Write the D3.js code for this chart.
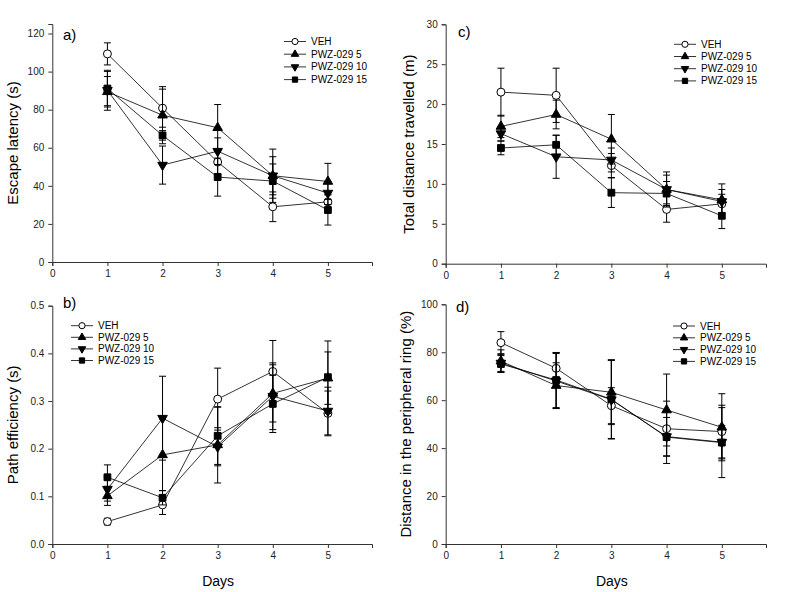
<!DOCTYPE html>
<html>
<head>
<meta charset="utf-8">
<script src="https://cdn.jsdelivr.net/npm/d3@7"></script>
<style>
  body { margin: 0; background: #fff; }
  svg { font-family: Arial, "Liberation Sans", sans-serif; }
</style>
</head>
<body>
<svg id="chart" width="800" height="592"></svg>
<script>
// days and groups
var days = [1, 2, 3, 4, 5];
var groups = ["VEH", "PWZ-029 5", "PWZ-029 10", "PWZ-029 15"];
var symbols = ["circle", "triangleUp", "triangleDown", "square"];
var xTicks = [0, 1, 2, 3, 4, 5];

// a) escape latency
var latencyVEH = [109.3, 80.8, 52.5, 29.0, 31.6];
var latency5 = [89.4, 77.1, 70.5, 45.3, 42.3];
var latency10 = [90.2, 50.9, 58.2, 45.3, 36.2];
var latency15 = [91.1, 66.5, 44.6, 42.5, 27.3];
var latencyErrVEH = [5.8, 10, 6, 7.8, 4];
var latencyErr5 = [8, 15, 12.2, 14, 9.5];
var latencyErr10 = [10.5, 10, 7, 10, 6];
var latencyErr15 = [9, 2.5, 10, 9, 7.9];
var latencyTicks = [0, 20, 40, 60, 80, 100, 120];

// b) path efficiency
var pathVEH = [0.047, 0.082, 0.304, 0.362, 0.274];
var path5 = [0.101, 0.187, 0.208, 0.316, 0.348];
var path10 = [0.115, 0.264, 0.204, 0.310, 0.279];
var path15 = [0.140, 0.097, 0.227, 0.294, 0.350];
var pathErrVEH = [0.007, 0.02, 0.065, 0.065, 0.047];
var pathErr5 = [0.02, 0.075, 0.08, 0.06, 0.055];
var pathErr10 = [0.025, 0.088, 0.04, 0.07, 0.05];
var pathErr15 = [0.026, 0.015, 0.06, 0.06, 0.076];
var pathTicks = [0, 0.1, 0.2, 0.3, 0.4, 0.5];

// c) total distance
var distVEH = [21.5, 21.1, 12.3, 6.8, 7.5];
var dist5 = [17.2, 18.7, 15.6, 9.3, 8.0];
var dist10 = [16.3, 13.4, 13.0, 9.3, 7.8];
var dist15 = [14.5, 14.9, 8.9, 8.8, 6.0];
var distErrVEH = [3, 3.4, 1.5, 1.6, 1.2];
var distErr5 = [1.4, 1.8, 3.1, 2.2, 2.0];
var distErr10 = [0.9, 2.7, 1.5, 1.8, 1.5];
var distErr15 = [0.85, 1.2, 1.85, 1.5, 1.6];
var distTicks = [0, 5, 10, 15, 20, 25, 30];

// d) peripheral ring
var ringVEH = [84.0, 73.3, 57.7, 48.1, 46.9];
var ring5 = [76.3, 66.1, 63.3, 55.9, 48.7];
var ring10 = [75.5, 68.0, 60.2, 44.8, 42.5];
var ring15 = [75.1, 68.4, 60.4, 44.6, 42.3];
var ringErrVEH = [4.6, 6.5, 7.5, 11.5, 11];
var ringErr5 = [4.7, 9.5, 13.5, 15, 14];
var ringErr10 = [3.5, 11.5, 16.4, 8, 7];
var ringErr15 = [3.5, 11.5, 16.4, 11, 14.6];
var ringTicks = [0, 20, 40, 60, 80, 100];

var svg = d3.select("#chart");

var symbolTypes = {
    circle: d3.symbolCircle,
    triangleUp: d3.symbolTriangle,
    triangleDown: d3.symbolTriangle,
    square: d3.symbolSquare
};
var symbolSizes = { circle: 50, triangleUp: 40, triangleDown: 40, square: 46 };

function drawMarker(g, kind, x, y, scale){
    var s = scale || 1;
    g.append("path")
        .attr("d", d3.symbol().type(symbolTypes[kind]).size(symbolSizes[kind] * s)())
        .attr("transform", "translate(" + x + "," + y + ")" + (kind == "triangleDown" ? " rotate(180)" : ""))
        .attr("fill", kind == "circle" ? "#fff" : "#000")
        .attr("stroke", "#000")
        .attr("stroke-width", 1);
}

function drawPanel(p){
    var g = svg.append("g");

    var x = d3.scaleLinear().domain([0, 5.8]).range([p.left, p.right]);
    var y = d3.scaleLinear().domain([0, p.yMax]).range([p.bottom, p.top]);

    var xAxis = g.append("g")
        .attr("transform", "translate(0," + p.bottom + ")")
        .call(d3.axisBottom(x).tickValues(xTicks).tickSizeOuter(0).tickSize(4).tickPadding(4).tickFormat(d3.format("d")));
    var yAxis = g.append("g")
        .attr("transform", "translate(" + p.left + ",0)")
        .call(d3.axisLeft(y).tickValues(p.ticks).tickSizeOuter(0).tickSize(4).tickPadding(4).tickFormat(p.fmt));

    [xAxis, yAxis].forEach(function(a){
        a.select(".domain").attr("stroke", "#333");
        a.selectAll(".tick line").attr("stroke", "#333");
        a.selectAll("text").attr("font-size", 10).attr("fill", "#222").attr("font-family", "Arial, 'Liberation Sans', sans-serif");
    });

    // series
    p.series.forEach(function(vals, i){
        var errs = p.errors[i];
        var sg = g.append("g");
        days.forEach(function(d, j){
            var cx = x(d);
            sg.append("line").attr("x1", cx).attr("x2", cx)
                .attr("y1", y(vals[j] - errs[j])).attr("y2", y(vals[j] + errs[j]))
                .attr("stroke", "#000").attr("stroke-width", 1);
            [vals[j] - errs[j], vals[j] + errs[j]].forEach(function(v){
                sg.append("line").attr("x1", cx - 3.5).attr("x2", cx + 3.5)
                    .attr("y1", y(v)).attr("y2", y(v))
                    .attr("stroke", "#000").attr("stroke-width", 1);
            });
        });
        sg.append("path")
            .datum(vals)
            .attr("fill", "none")
            .attr("stroke", "#000")
            .attr("stroke-width", 0.8)
            .attr("d", d3.line().x(function(d, j){ return x(days[j]); }).y(function(d){ return y(d); }));
        vals.forEach(function(v, j){
            drawMarker(sg, symbols[i], x(days[j]), y(v));
        });
    });

    // legend
    groups.forEach(function(name, i){
        var ly = p.legendY + i * p.legendStep;
        g.append("line").attr("x1", p.legendX).attr("x2", p.legendX + 22)
            .attr("y1", ly).attr("y2", ly).attr("stroke", "#000").attr("stroke-width", 0.8);
        drawMarker(g, symbols[i], p.legendX + 11, ly, 0.6);
        g.append("text").attr("x", p.legendX + 27).attr("y", ly + 3.5)
            .attr("font-size", 10).text(name);
    });

    // panel letter
    g.append("text").attr("x", p.letterX).attr("y", p.letterY)
        .attr("font-size", 15).text(p.letter);

    // y title
    g.append("text")
        .attr("transform", "translate(" + p.titleX + "," + ((p.top + p.bottom) / 2) + ") rotate(-90)")
        .attr("text-anchor", "middle")
        .attr("font-size", 15)
        .text(p.title);

    if (p.days) {
        g.append("text").attr("x", (p.left + p.right) / 2 + 6).attr("y", 586)
            .attr("text-anchor", "middle").attr("font-size", 14).text("Days");
    }
}

drawPanel({
    left: 52.3, right: 372, top: 24, bottom: 262, yMax: 125,
    ticks: latencyTicks, fmt: d3.format("d"),
    series: [latencyVEH, latency5, latency10, latency15],
    errors: [latencyErrVEH, latencyErr5, latencyErr10, latencyErr15],
    legendX: 284, legendY: 41.5, legendStep: 12.7,
    letter: "a)", letterX: 63, letterY: 40,
    title: "Escape latency (s)", titleX: 18, days: false
});

drawPanel({
    left: 52.3, right: 372, top: 305.7, bottom: 544, yMax: 0.5,
    ticks: pathTicks, fmt: d3.format(".1f"),
    series: [pathVEH, path5, path10, path15],
    errors: [pathErrVEH, pathErr5, pathErr10, pathErr15],
    legendX: 71, legendY: 325.7, legendStep: 11.6,
    letter: "b)", letterX: 63, letterY: 308,
    title: "Path efficiency (s)", titleX: 18, days: true
});

drawPanel({
    left: 445.7, right: 766, top: 24.3, bottom: 263.7, yMax: 30,
    ticks: distTicks, fmt: d3.format("d"),
    series: [distVEH, dist5, dist10, dist15],
    errors: [distErrVEH, distErr5, distErr10, distErr15],
    legendX: 674, legendY: 44.3, legendStep: 12.2,
    letter: "c)", letterX: 458, letterY: 37,
    title: "Total distance travelled (m)", titleX: 414, days: false
});

drawPanel({
    left: 445.7, right: 766, top: 304.3, bottom: 544, yMax: 100,
    ticks: ringTicks, fmt: d3.format("d"),
    series: [ringVEH, ring5, ring10, ring15],
    errors: [ringErrVEH, ringErr5, ringErr10, ringErr15],
    legendX: 673, legendY: 326, legendStep: 11.8,
    letter: "d)", letterX: 456, letterY: 312,
    title: "Distance in the peripheral ring (%)", titleX: 411, days: true
});
</script>
</body>
</html>
